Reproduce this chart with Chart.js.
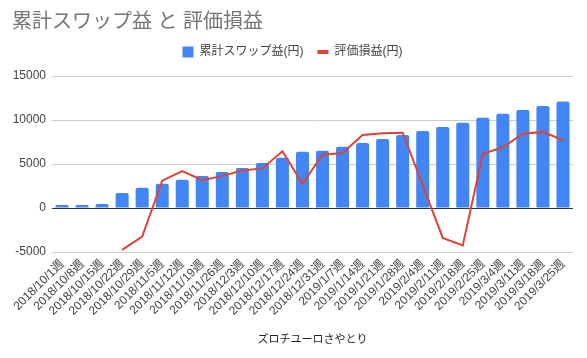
<!DOCTYPE html>
<html>
<head>
<meta charset="utf-8">
<script src="https://cdn.jsdelivr.net/npm/chart.js@4.4.0/dist/chart.umd.min.js"></script>
<style>
  html, body { margin: 0; padding: 0; background: #fff; }
  #wrap { width: 587px; height: 358px; position: relative; }
</style>
</head>
<body>
<div id="wrap"><canvas id="c" width="587" height="358"></canvas></div>
<script>
const chartTitle = '累計スワップ益 と 評価損益';
const xAxisTitle = 'ズロチユーロさやとり';
const seriesNames = ['累計スワップ益(円)', '評価損益(円)'];
const categories = [
  '2018/10/1週', '2018/10/8週', '2018/10/15週', '2018/10/22週', '2018/10/29週',
  '2018/11/5週', '2018/11/12週', '2018/11/19週', '2018/11/26週', '2018/12/3週',
  '2018/12/10週', '2018/12/17週', '2018/12/24週', '2018/12/31週', '2019/1/7週',
  '2019/1/14週', '2019/1/21週', '2019/1/28週', '2019/2/4週', '2019/2/11週',
  '2019/2/18週', '2019/2/25週', '2019/3/4週', '2019/3/11週', '2019/3/18週', '2019/3/25週'
];
const swapProfit = [350, 350, 450, 1700, 2300, 2750, 3200, 3650, 4100, 4550, 5100, 5700, 6400,
  6500, 6950, 7400, 7850, 8300, 8750, 9200, 9700, 10250, 10700, 11150, 11600, 12100];
const evalProfit = [null, null, null, -4750, -3250, 3100, 4200, 3150, 3650, 4250, 4500, 6450, 2750,
  6050, 6250, 8300, 8500, 8550, 2600, -3400, -4250, 6150, 6900, 8450, 8650, 7700];
const yTicks = [-5000, 0, 5000, 10000, 15000];

Chart.defaults.font.family = "Arial, 'Liberation Sans', 'Noto Sans CJK JP', sans-serif";
Chart.defaults.color = '#444';

new Chart(document.getElementById('c'), {
  data: {
    labels: categories,
    datasets: [
      {
        type: 'bar',
        label: seriesNames[0],
        data: swapProfit,
        backgroundColor: '#4285f4',
        borderWidth: 0,
        borderRadius: 2,
        categoryPercentage: 1,
        barPercentage: 0.65,
        pointStyle: 'rect',
        order: 1
      },
      {
        type: 'line',
        label: seriesNames[1],
        data: evalProfit,
        borderColor: '#db4437',
        backgroundColor: '#db4437',
        borderWidth: 2,
        pointRadius: 0,
        pointHoverRadius: 0,
        tension: 0,
        spanGaps: false,
        pointStyle: 'line',
        order: 0
      }
    ]
  },
  options: {
    responsive: false,
    animation: false,
    layout: { padding: { left: 12, right: 14, top: 0, bottom: 0 } },
    plugins: {
      tooltip: { enabled: false },
      title: {
        display: true,
        text: chartTitle,
        align: 'start',
        color: '#757575',
        font: { size: 20, weight: 'normal', lineHeight: 1.0 },
        padding: { top: 12, bottom: 0 }
      },
      subtitle: {
        display: true,
        text: '',
        weight: 500,
        font: { size: 1, lineHeight: 1 },
        padding: { top: 0, bottom: 7 }
      },
      legend: {
        display: true,
        position: 'top',
        labels: {
          usePointStyle: true,
          boxHeight: 11,
          pointStyleWidth: 11,
          padding: 14,
          color: '#444',
          font: { size: 12 },
          sort: (a, b) => a.datasetIndex - b.datasetIndex,
          generateLabels(chart) {
            const items = Chart.defaults.plugins.legend.labels.generateLabels(chart);
            items.forEach(it => {
              if (it.datasetIndex === 1) { it.lineWidth = 4; } else { it.lineWidth = 0; }
            });
            return items;
          }
        }
      }
    },
    scales: {
      x: {
        grid: { display: false, drawTicks: false },
        border: { display: false },
        ticks: {
          autoSkip: false,
          maxRotation: 45,
          minRotation: 45,
          padding: 5,
          color: '#444',
          font: { size: 12 }
        },
        title: {
          display: true,
          text: xAxisTitle,
          color: '#222',
          font: { size: 11 },
          padding: { top: 0, bottom: 11 }
        },
        afterFit(scale) { scale.height = 106; }
      },
      y: {
        min: yTicks[0],
        max: yTicks[yTicks.length - 1],
        border: { display: false },
        grid: {
          drawTicks: false,
          color: ctx => (ctx.tick && ctx.tick.value === 0) ? '#333' : '#ccc',
          lineWidth: 1
        },
        afterBuildTicks(scale) { scale.ticks = yTicks.map(v => ({ value: v })); },
        ticks: {
          padding: 6,
          color: '#444',
          font: { size: 12 },
          callback: v => String(v)
        },
        afterFit(scale) { scale.width = 40; }
      }
    }
  }
});
</script>
</body>
</html>
